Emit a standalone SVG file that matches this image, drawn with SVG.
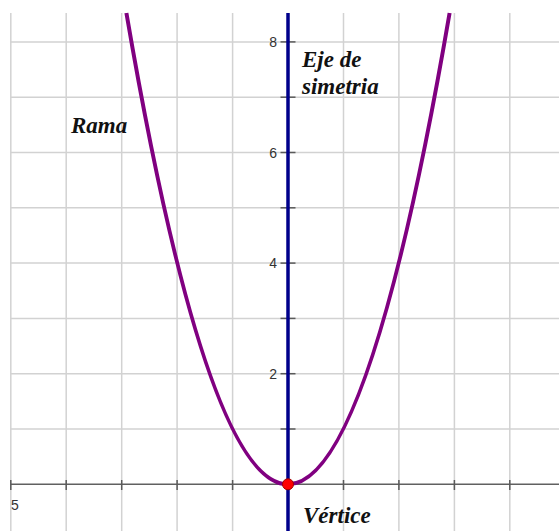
<svg xmlns="http://www.w3.org/2000/svg" width="559" height="531" viewBox="0 0 559 531">
<style>
.grid line{stroke:#d2d2d2;stroke-width:1.5}
.tick{stroke:#5a5a5a;stroke-width:1.5}
.num{font-family:"Liberation Sans",Arial,sans-serif;font-size:14px;fill:#333}
.lbl{font-family:"Liberation Serif","Times New Roman",serif;font-size:23px;font-weight:bold;font-style:italic;fill:#111}
</style>
<rect width="559" height="531" fill="#fff"/>
<g id="grid" class="grid">
<line x1="10.8" y1="13" x2="10.8" y2="531"/>
<line x1="66.2" y1="13" x2="66.2" y2="531"/>
<line x1="121.7" y1="13" x2="121.7" y2="531"/>
<line x1="177.1" y1="13" x2="177.1" y2="531"/>
<line x1="232.6" y1="13" x2="232.6" y2="531"/>
<line x1="343.5" y1="13" x2="343.5" y2="531"/>
<line x1="398.9" y1="13" x2="398.9" y2="531"/>
<line x1="454.4" y1="13" x2="454.4" y2="531"/>
<line x1="509.8" y1="13" x2="509.8" y2="531"/>
<line x1="10.8" y1="41.9" x2="559" y2="41.9"/>
<line x1="10.8" y1="97.2" x2="559" y2="97.2"/>
<line x1="10.8" y1="152.5" x2="559" y2="152.5"/>
<line x1="10.8" y1="207.8" x2="559" y2="207.8"/>
<line x1="10.8" y1="263.1" x2="559" y2="263.1"/>
<line x1="10.8" y1="318.4" x2="559" y2="318.4"/>
<line x1="10.8" y1="373.7" x2="559" y2="373.7"/>
<line x1="10.8" y1="429" x2="559" y2="429"/>
</g>
<g id="x-axis">
<line x1="10.8" y1="484.3" x2="559" y2="484.3" stroke="#606060" stroke-width="1.5"/>
<g class="tick">
<line x1="10.8" y1="480" x2="10.8" y2="490"/>
<line x1="66.2" y1="480" x2="66.2" y2="490"/>
<line x1="121.7" y1="480" x2="121.7" y2="490"/>
<line x1="177.1" y1="480" x2="177.1" y2="490"/>
<line x1="232.6" y1="480" x2="232.6" y2="490"/>
<line x1="343.5" y1="480" x2="343.5" y2="490"/>
<line x1="398.9" y1="480" x2="398.9" y2="490"/>
<line x1="454.4" y1="480" x2="454.4" y2="490"/>
<line x1="509.8" y1="480" x2="509.8" y2="490"/>
</g>
<text class="num" x="11" y="510">5</text>
</g>
<g id="y-ticks" class="tick">
<line x1="280.5" y1="41.9" x2="295.5" y2="41.9"/>
<line x1="280.5" y1="97.2" x2="295.5" y2="97.2"/>
<line x1="280.5" y1="152.5" x2="295.5" y2="152.5"/>
<line x1="280.5" y1="207.8" x2="295.5" y2="207.8"/>
<line x1="280.5" y1="263.1" x2="295.5" y2="263.1"/>
<line x1="280.5" y1="318.4" x2="295.5" y2="318.4"/>
<line x1="280.5" y1="373.7" x2="295.5" y2="373.7"/>
<line x1="280.5" y1="429" x2="295.5" y2="429"/>
</g>
<g id="y-labels" class="num" text-anchor="end">
<text x="277" y="47">8</text>
<text x="277" y="157.5">6</text>
<text x="277" y="268">4</text>
<text x="277" y="378.5">2</text>
</g>
<g id="parabola">
<path d="M126.4,13 Q288,955.6 449.6,13" fill="none" stroke="#800080" stroke-width="4"/>
</g>
<g id="eje">
<line x1="288" y1="13" x2="288" y2="531" stroke="#00008b" stroke-width="3.5"/>
</g>
<g id="vertice">
<circle cx="288" cy="484.3" r="5.5" fill="#ff0000" stroke="#a00000" stroke-width="1"/>
</g>
<g id="labels" class="lbl">
<text x="71" y="133">Rama</text>
<text x="302" y="67">Eje de</text>
<text x="302" y="94">simetria</text>
<text x="303" y="523">Vértice</text>
</g>
</svg>
